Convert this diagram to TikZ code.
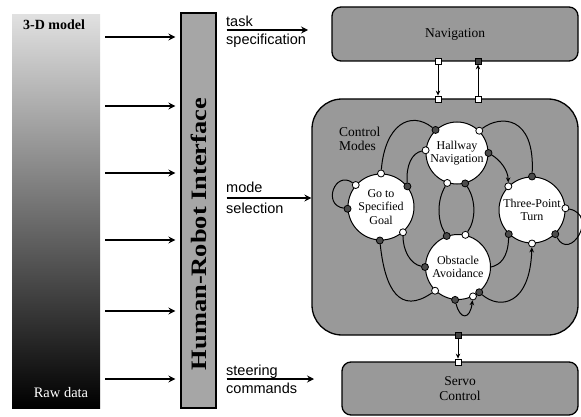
\documentclass[tikz,border=0pt]{standalone}
\usepackage{fontspec}
\setmainfont{Liberation Serif}
\setsansfont{Liberation Sans}
\usetikzlibrary{arrows.meta}
\begin{document}
\begin{tikzpicture}[x=1pt,y=-1pt,
  box/.style={draw=black, line width=1.3pt, fill=black!40, inner sep=0pt, align=center,
    font=\fontsize{13.5}{15}\selectfont},
  mode/.style={circle, draw=black, line width=1pt, fill=white, inner sep=0pt, align=center,
    font=\fontsize{12}{13.5}\selectfont},
  oport/.style={circle, draw=black, line width=0.8pt, fill=white, minimum size=7pt, inner sep=0pt},
  fport/.style={circle, draw=black, line width=0.8pt, fill=black!70, minimum size=7pt, inner sep=0pt},
  osq/.style={rectangle, draw=black, line width=0.8pt, fill=white, minimum size=6pt, inner sep=0pt},
  fsq/.style={rectangle, draw=black, line width=0.8pt, fill=black!75, minimum size=6pt, inner sep=0pt},
  link/.style={line width=1pt},
  tiparr/.style={line width=1pt, -{Stealth[length=5pt,width=4.5pt]}},
  bigarr/.style={line width=1.2pt, -{Stealth[length=7pt,width=7pt,inset=2.5pt]}},
  lbl/.style={font=\sffamily\fontsize{14.5}{16}\selectfont, inner sep=0pt}
]
\useasboundingbox (0,0) rectangle (581,417);

% left gradient column
\node[minimum width=88pt, minimum height=393pt, inner sep=0pt,
  top color=black!12, middle color=black!52, bottom color=black] (grad) at (56,211.5) {};
\node[font=\bfseries\fontsize{14}{16}\selectfont, inner sep=0pt] (model) at (54,25) {3-D model};
\node[font=\fontsize{14.5}{16}\selectfont, text=white, inner sep=0pt] (raw) at (61,393) {Raw data};

% human-robot interface
\node[draw=black, line width=1.3pt, fill=black!35, minimum width=35pt, minimum height=395pt, inner sep=0pt] (hri) at (198.5,210.5) {};
\node[rotate=90, inner sep=0pt, font=\bfseries\fontsize{22}{24}\selectfont] (hritext) at (199,234) {\scalebox{1.2}[1]{Human-Robot Interface}};

\foreach \y in {37,106,173,240,311,379}
  \draw[bigarr, shorten <=5pt, shorten >=5pt] (grad.east |- 0,\y) -- (hri.west |- 0,\y);

% right boxes
\node[box, rounded corners=9pt, minimum width=246pt, minimum height=54pt] (nav) at (455,34) {Navigation};
\node[box, rounded corners=30pt, minimum width=266pt, minimum height=236pt] (ctrl) at (445,217) {};
\node[box, rounded corners=9pt, minimum width=236pt, minimum height=53pt] (servo) at (460,388.5) {Servo\\Control};
\node[align=left, anchor=west, inner sep=0pt, font=\fontsize{13.5}{14}\selectfont] (cm) at (339,139) {Control\\Modes};

% input labels and arrows
\coordinate (taskend) at (308,30);
\coordinate (steerend) at (314,379);
\node[lbl, anchor=base west] (task) at (226,27) {task};
\node[lbl, anchor=base west] (spec) at (226,45) {specification};
\draw[bigarr, shorten <=10pt] (hri.east |- taskend) -- (taskend);
\node[lbl, anchor=base west] (mode) at (226,193) {mode};
\node[lbl, anchor=base west] (sel) at (226,213) {selection};
\draw[bigarr, shorten <=10pt] (hri.east |- 0,198) -- (ctrl.west |- 0,198);
\node[lbl, anchor=base west] (steer) at (226,375) {steering};
\node[lbl, anchor=base west] (comm) at (226,393) {commands};
\draw[bigarr, shorten <=10pt] (hri.east |- steerend) -- (steerend);

% box connectors
\node[osq] (nb1) at (438,61) {};
\node[osq] (ct1) at (438,99) {};
\node[fsq] (nb2) at (478,61) {};
\node[osq] (ct2) at (478,99) {};
\node[fsq] (cb) at (458,335) {};
\node[osq] (sv) at (458,362) {};
\draw[tiparr] (nb1) -- (ct1);
\draw[tiparr] (ct2) -- (nb2);
\draw[tiparr] (cb) -- (sv);

% modes
\node[mode, minimum size=66pt] (G) at (381,207) {Go to\\Specified\\Goal};
\node[mode, minimum size=62pt] (H) at (457,153) {Hallway\\Navigation};
\node[mode, minimum size=66pt] (T) at (532,210) {Three-Point\\Turn};
\node[mode, minimum size=65pt] (O) at (458,267) {Obstacle\\Avoidance};

% ports
\node[oport] (ga) at (G.90) {};
\node[oport] (gb) at (G.139) {};
\node[fport] (gc) at (G.183) {};
\node[fport] (gd) at (G.38) {};
\node[oport] (ge) at (G.311) {};
\node[fport] (gf) at (G.268) {};
\node[fport] (ha) at (H.133) {};
\node[oport] (hb) at (H.45) {};
\node[oport] (hc) at (H.175) {};
\node[fport] (hd) at (H.0) {};
\node[oport] (he) at (H.252) {};
\node[fport] (hf) at (H.285) {};
\node[fport] (ta) at (T.90) {};
\node[oport] (tb) at (T.135) {};
\node[oport] (tc) at (T.3) {};
\node[fport] (td) at (T.314) {};
\node[oport] (te) at (T.270) {};
\node[fport] (tf) at (T.226) {};
\node[fport] (oa) at (O.110) {};
\node[oport] (ob) at (O.77) {};
\node[fport] (oc) at (O.180) {};
\node[oport] (oe) at (O.226) {};
\node[fport] (of) at (O.265) {};
\node[oport] (og) at (O.297) {};
\node[fport] (oh) at (O.310) {};

% mode transitions
\draw[link] (ha) .. controls (410,110) and (385,125) .. (ga);
\draw[link] (ta) .. controls (535,115) and (500,115) .. (hb);
\draw[link] (gd) .. controls (406,165) and (412,153) .. (hc);
\draw[link] (oc) .. controls (410,264) and (403,250) .. (ge);
\draw[link] (gf) .. controls (385,290) and (400,315) .. (oe);
\draw[tiparr] (of) .. controls (460,320) and (470,320) .. (og);
\draw[tiparr] (oh) .. controls (500,310) and (530,305) .. (te);
\draw[link] (tf) .. controls (508,258) and (500,265) .. (O.0);
\draw[tiparr] (hd) .. controls (500,160) and (508,170) .. (tb);
\draw[link] (oa) .. controls (437,220) and (437,200) .. (he);
\draw[link] (hf) .. controls (476,200) and (476,220) .. (ob);
\draw[link] (gc) .. controls (322,205) and (335,170) .. (gb);
\draw[link] (td) .. controls (570,262) and (599,215) .. (tc);
\end{tikzpicture}
\end{document}
